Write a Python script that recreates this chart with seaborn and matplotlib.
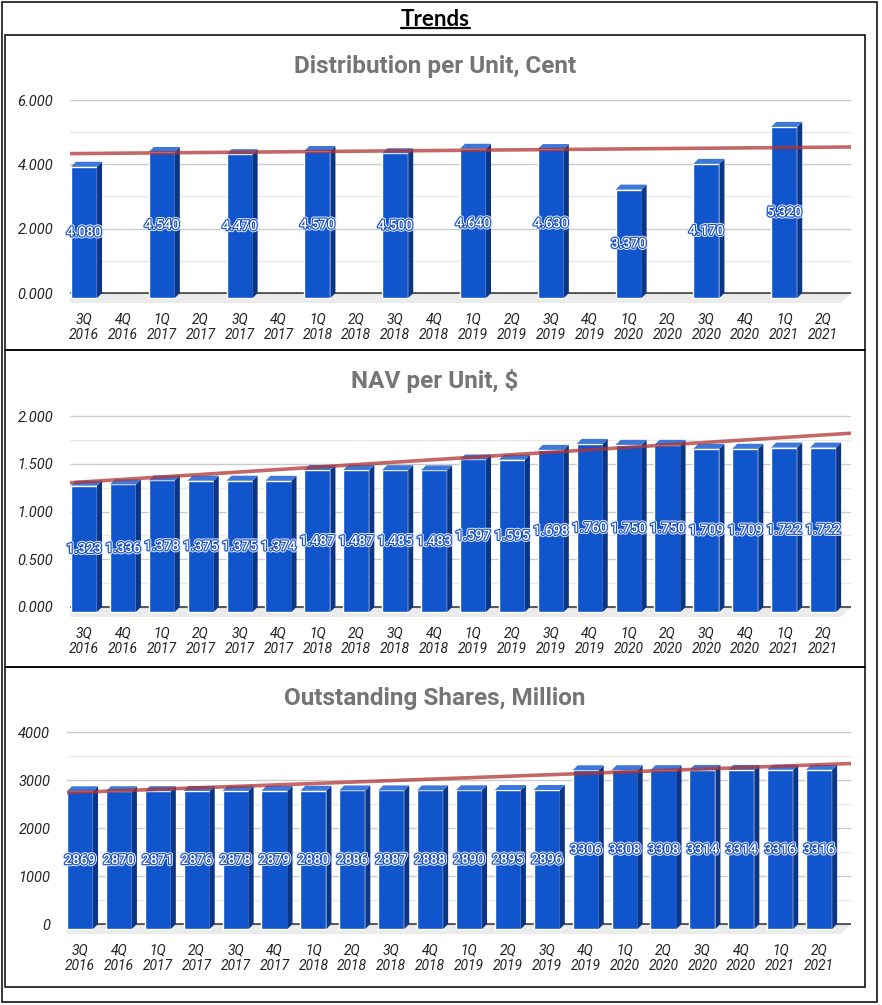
import numpy as np
import pandas as pd
import matplotlib
matplotlib.use('Agg')
import matplotlib.pyplot as plt
import matplotlib.patheffects as pe
from matplotlib.patches import Polygon, Rectangle
from matplotlib.lines import Line2D
from matplotlib.ticker import MultipleLocator, FormatStrFormatter
import seaborn as sns

# data
quarters = ['3Q\n2016', '4Q\n2016', '1Q\n2017', '2Q\n2017', '3Q\n2017', '4Q\n2017',
            '1Q\n2018', '2Q\n2018', '3Q\n2018', '4Q\n2018', '1Q\n2019', '2Q\n2019',
            '3Q\n2019', '4Q\n2019', '1Q\n2020', '2Q\n2020', '3Q\n2020', '4Q\n2020',
            '1Q\n2021', '2Q\n2021']
distribution = [4.080, np.nan, 4.540, np.nan, 4.470, np.nan, 4.570, np.nan, 4.500, np.nan,
                4.640, np.nan, 4.630, np.nan, 3.370, np.nan, 4.170, np.nan, 5.320, np.nan]
nav = [1.323, 1.336, 1.378, 1.375, 1.375, 1.374, 1.487, 1.487, 1.485, 1.483,
       1.597, 1.595, 1.698, 1.760, 1.750, 1.750, 1.709, 1.709, 1.722, 1.722]
shares = [2869, 2870, 2871, 2876, 2878, 2879, 2880, 2886, 2887, 2888,
          2890, 2895, 2896, 3306, 3308, 3308, 3314, 3314, 3316, 3316]

titles = ['Distribution per Unit, Cent', 'NAV per Unit, $', 'Outstanding Shares, Million']

sns.set_style('white')
plt.rcParams['font.family'] = ['Roboto', 'DejaVu Sans']

W, H = 882, 1005
fig = plt.figure(figsize=(W / 100, H / 100), dpi=100)

FRONT = '#1155cc'
SIDE = '#0b3585'
TOP = '#3d78d8'


def fx(px):
    return px / W


def fy(py):
    return 1 - py / H


def make_panel(values, title, title_y, top_px, zero_px, ymax, major, minor, fmt,
               left_px, c0_px, lab_fmt):
    right_px = 851
    spacing = 38.9
    s = (zero_px - top_px) / ymax
    ax = fig.add_axes([fx(left_px), fy(zero_px + 12), fx(right_px - left_px),
                       (zero_px + 12 - (top_px - 2)) / H])
    df = pd.DataFrame({'quarter': quarters, 'value': values})
    sns.barplot(data=df, x='quarter', y='value', order=quarters, color=FRONT,
                saturation=1, width=0.67, ax=ax, zorder=3)
    bars = [p for p in ax.patches if isinstance(p, Rectangle) and np.isfinite(p.get_height())]
    ax.set_xlim((left_px - c0_px) / spacing, (right_px - c0_px) / spacing)
    ax.set_ylim(-12 / s, ymax + 2 / s)

    # pixel depth -> data units
    dx = 5 / spacing
    dy = 5 / s
    x0, x1 = ax.get_xlim()

    # floor
    ax.add_patch(Polygon([(x0, 0), (x1, 0), (x1 - 2 * dx, -2 * dy), (x0 - 2 * dx, -2 * dy)],
                         closed=True, facecolor='#ebebeb', edgecolor='none', zorder=0.5))
    ax.plot([x0, x1], [0, 0], color='#333333', lw=1.1, zorder=1)

    for p in bars:
        h = p.get_height()
        bx, bw = p.get_x(), p.get_width()
        p.set_y(-dy)
        ax.add_patch(Polygon([(bx + bw, -dy), (bx + bw + dx, 0), (bx + bw + dx, h), (bx + bw, h - dy)],
                             closed=True, facecolor=SIDE, edgecolor='none', zorder=3))
        ax.add_patch(Polygon([(bx, h - dy), (bx + dx, h), (bx + bw + dx, h), (bx + bw, h - dy)],
                             closed=True, facecolor=TOP, edgecolor='none', zorder=3))
        ax.text(bx + bw / 2, h / 2 - dy, lab_fmt(h), ha='center', va='center',
                color='white', fontsize=10, fontweight='medium', zorder=5,
                path_effects=[pe.Stroke(linewidth=3, foreground='#dfe8fb'),
                              pe.Stroke(linewidth=1.6, foreground='#1a4fc4'),
                              pe.Normal()])

    # linear trendline
    xs = np.arange(len(values))
    ys = np.array(values, dtype=float)
    ok = np.isfinite(ys)
    k, b = np.polyfit(xs[ok], ys[ok], 1)
    ax.plot([x0, x1], [k * x0 + b, k * x1 + b], color='#b03434', alpha=0.75, lw=2.6, zorder=4)

    ax.yaxis.set_major_locator(MultipleLocator(major))
    ax.yaxis.set_minor_locator(MultipleLocator(minor))
    ax.yaxis.set_major_formatter(FormatStrFormatter(fmt))
    ax.grid(True, which='major', axis='y', color='#cccccc', lw=1, zorder=0)
    ax.grid(True, which='minor', axis='y', color='#e8e8e8', lw=1, zorder=0)
    ax.set_axisbelow(True)
    for sp in ax.spines.values():
        sp.set_visible(False)
    ax.set_xlabel('')
    ax.set_ylabel('')
    ax.tick_params(axis='both', which='both', length=0)
    ax.tick_params(axis='y', pad=12, labelsize=10.5, labelcolor='#222222')
    ax.tick_params(axis='x', pad=5, labelsize=10, labelcolor='#222222')
    ax.set_yticks(np.arange(0, ymax + major / 2, major))
    for t in ax.get_yticklabels():
        t.set_fontstyle('italic')
    for t in ax.get_xticklabels():
        t.set_fontstyle('italic')
        t.set_linespacing(1.2)

    fig.text(fx(435), fy(title_y), title, ha='center', va='center', fontsize=17.5,
             fontweight='bold', color='#757575')
    return ax


make_panel(distribution, titles[0], 67, 100, 293, 6, 2, 1, '%.3f', 70, 84, lambda v: f'{v:.3f}')
make_panel(nav, titles[1], 381, 416, 607, 2, 0.5, 0.25, '%.3f', 70, 84, lambda v: f'{v:.3f}')
make_panel(shares, titles[2], 698, 732, 924, 4000, 1000, 500, '%d', 67, 80, lambda v: f'{v:.0f}')

# panel frames and outer frame
for (t, b) in [(35, 350), (350, 667), (667, 987)]:
    fig.add_artist(Rectangle((fx(5), fy(b)), fx(860), (b - t) / H, transform=fig.transFigure,
                             fill=False, edgecolor='black', lw=1.1))
fig.add_artist(Rectangle((fx(2), fy(1002)), fx(875), 1000 / H, transform=fig.transFigure,
                         fill=False, edgecolor='black', lw=1.1))

# underlined header
hdr = fig.text(fx(435), fy(19), 'Trends', ha='center', va='center', fontsize=16,
               fontweight='bold', color='black', family=['Lato', 'DejaVu Sans'])
r = fig.canvas.get_renderer()
bb = hdr.get_window_extent(renderer=r).transformed(fig.transFigure.inverted())
fig.add_artist(Line2D([bb.x0, bb.x1], [bb.y0 + 0.001, bb.y0 + 0.001], transform=fig.transFigure,
                      color='black', lw=1.6))

fig.savefig('out.png', dpi=100)
